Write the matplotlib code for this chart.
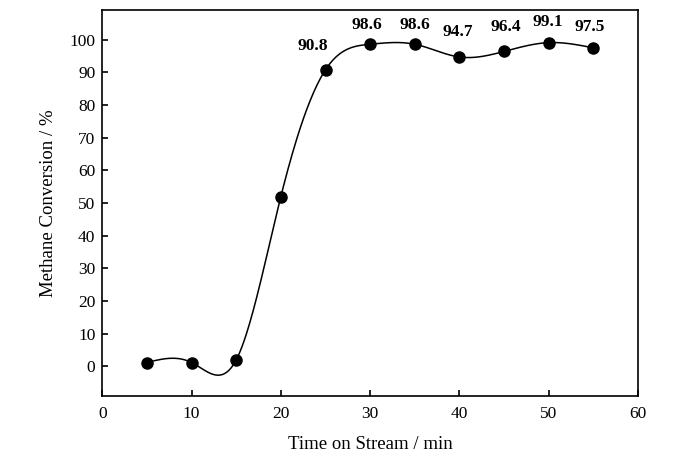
import numpy as np
import matplotlib
matplotlib.use("Agg")
import matplotlib.pyplot as plt

# data
time_min = [5, 10, 15, 20, 25, 30, 35, 40, 45, 50, 55]
conversion = [1.2, 1.2, 2.0, 52.0, 90.8, 98.6, 98.6, 94.7, 96.4, 99.1, 97.5]
labelled = [90.8, 98.6, 98.6, 94.7, 96.4, 99.1, 97.5]


def natural_spline(x, y, xs):
    # plain natural cubic spline, like the smooth line in Origin
    x = np.asarray(x, float)
    y = np.asarray(y, float)
    n = len(x)
    h = np.diff(x)
    A = np.zeros((n, n))
    b = np.zeros(n)
    A[0, 0] = 1
    A[-1, -1] = 1
    for i in range(1, n - 1):
        A[i, i - 1] = h[i - 1]
        A[i, i] = 2 * (h[i - 1] + h[i])
        A[i, i + 1] = h[i]
        b[i] = 3 * ((y[i + 1] - y[i]) / h[i] - (y[i] - y[i - 1]) / h[i - 1])
    c = np.linalg.solve(A, b)
    out = np.empty_like(xs)
    for k, xv in enumerate(xs):
        i = min(max(np.searchsorted(x, xv) - 1, 0), n - 2)
        dx = xv - x[i]
        bb = (y[i + 1] - y[i]) / h[i] - h[i] * (2 * c[i] + c[i + 1]) / 3
        dd = (c[i + 1] - c[i]) / (3 * h[i])
        out[k] = y[i] + bb * dx + c[i] * dx ** 2 + dd * dx ** 3
    return out


plt.rcParams['font.family'] = ['Liberation Serif', 'DejaVu Serif']

fig = plt.figure(figsize=(6.73, 4.67), dpi=100)
ax = fig.add_axes([0.152, 0.151, 0.796, 0.827])

xs = np.linspace(time_min[0], time_min[-1], 400)
ax.plot(xs, natural_spline(time_min, conversion, xs), color='black', lw=1.1)
ax.plot(time_min, conversion, 'o', color='black', markersize=8)

# value labels on the last seven points
offsets = [(-9, 11), (-2, 8), (0, 8), (-1, 12), (1, 12), (-1, 9), (-3, 9)]
for xv, yv, off in zip(time_min[4:], labelled, offsets):
    ax.annotate(f"{yv:.1f}", (xv, yv), xytext=off, textcoords='offset points',
                ha='center', va='bottom', fontsize=12.5, fontweight='bold')

ax.set_xlim(0, 60)
ax.set_ylim(-9.2, 109)
ax.set_xticks(range(0, 61, 10))
ax.set_yticks(range(0, 101, 10))
ax.tick_params(direction='in', length=4, width=1.2, labelsize=12.5, top=False, right=False)
ax.tick_params(axis='x', pad=7)
ax.tick_params(axis='y', pad=5)
for s in ax.spines.values():
    s.set_linewidth(1.2)

ax.set_xlabel("Time on Stream / min", fontsize=13.5, labelpad=10)
ax.set_ylabel("Methane Conversion / %", fontsize=13.5, labelpad=9)

plt.savefig("out.png", dpi=100)
